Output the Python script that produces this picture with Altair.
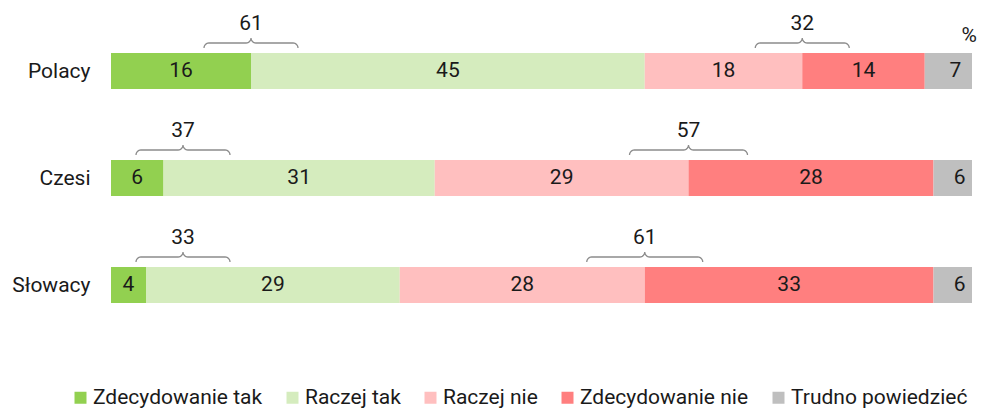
import json
import math
import altair as alt
import pandas as pd

# ---------------- data ----------------
groups = ["Polacy", "Czesi", "Słowacy"]
categories = ["Zdecydowanie tak", "Raczej tak", "Raczej nie", "Zdecydowanie nie", "Trudno powiedzieć"]
zdecydowanie_tak = [16, 6, 4]
raczej_tak = [45, 31, 29]
raczej_nie = [18, 29, 28]
zdecydowanie_nie = [14, 28, 33]
trudno_powiedziec = [7, 6, 6]
colors = ["#92D050", "#D5ECBE", "#FFBFBF", "#FF7F7F", "#BFBFBF"]

# ---------------- layout constants ----------------
PX_PER_UNIT = 8.75
PLOT_W = 861
XMAX = PLOT_W / PX_PER_UNIT
ROW_PX = 107
TOP_PX = 63
PLOT_H = 330
Y_MIN = -TOP_PX / ROW_PX
Y_MAX = Y_MIN + PLOT_H / ROW_PX
BAR_HALF_PX = 18
FONT = "Roboto"
FS = 21
TXT = "#1a1a1a"
BRACE_MIN_CENTER_PX = 72
BRACE_POS_HALF_PX = [47, 47, 47]
BRACE_NEG_HALF_PX = [47, 59, 58]


def ux(px):
    return px / PX_PER_UNIT


def uy(px):
    return px / ROW_PX


series = [zdecydowanie_tak, raczej_tak, raczej_nie, zdecydowanie_nie, trudno_powiedziec]

bar_rows = []
for gi, g in enumerate(groups):
    cum = 0
    for ci, cat in enumerate(categories):
        v = series[ci][gi]
        bar_rows.append({
            "group": g, "cat": cat, "value": v,
            "x0": cum, "x1": cum + v, "xm": cum + v / 2,
            "y0": gi - uy(BAR_HALF_PX), "y1": gi + uy(BAR_HALF_PX), "yc": gi,
        })
        cum += v
bars_df = pd.DataFrame(bar_rows)


def arc(cx, cy, r, a0, a1, n=6):
    pts = []
    for k in range(n + 1):
        t = math.radians(a0 + (a1 - a0) * k / n)
        pts.append((cx + r * math.cos(t), cy + r * math.sin(t)))
    return pts


def brace_points(half, r=5, end=-5):
    flat = end - r
    peak = flat - r
    pts = []
    pts += arc(-half + r, end, r, 180, 270)
    pts += arc(-r, peak, r, 90, 0)
    pts += arc(r, peak, r, 180, 90)[1:]
    pts += arc(half - r, end, r, 270, 360)
    return pts


brace_rows = []
label_rows = []
bid = 0
for gi, g in enumerate(groups):
    top = gi - uy(BAR_HALF_PX)
    pos_center = max(zdecydowanie_tak[gi], ux(BRACE_MIN_CENTER_PX))
    pos_total = zdecydowanie_tak[gi] + raczej_tak[gi]
    neg_center = zdecydowanie_tak[gi] + raczej_tak[gi] + raczej_nie[gi]
    neg_total = raczej_nie[gi] + zdecydowanie_nie[gi]
    for center, total, half in [(pos_center, pos_total, BRACE_POS_HALF_PX[gi]),
                                (neg_center, neg_total, BRACE_NEG_HALF_PX[gi])]:
        for k, (dx, dy) in enumerate(brace_points(half)):
            brace_rows.append({"id": bid, "k": k, "x": center + ux(dx), "y": top + uy(dy)})
        label_rows.append({"x": center, "y": top - uy(29), "text": str(total)})
        bid += 1
brace_df = pd.DataFrame(brace_rows)
sums_df = pd.DataFrame(label_rows)
pct_df = pd.DataFrame([{"x": XMAX, "y": 0 - uy(BAR_HALF_PX) - uy(17), "text": "%"}])

# ---------------- scales / axes ----------------
xscale = alt.Scale(domain=[0, XMAX], nice=False, zero=False)
yscale = alt.Scale(domain=[Y_MIN, Y_MAX], nice=False, zero=False, reverse=True)
label_expr = json.dumps(groups, ensure_ascii=False) + "[datum.value]"
yaxis = alt.Axis(values=[0, 1, 2], labelExpr=label_expr, ticks=False, domain=False, grid=False,
                 labelPadding=21, labelFont=FONT, labelFontSize=FS, labelColor=TXT,
                 labelFlush=False, labelOverlap=False, labelBound=False, title=None,
                 labelAlign="right", labelBaseline="middle")


def X(f):
    return alt.X(f, type="quantitative", scale=xscale, axis=None)


def Y(f):
    return alt.Y(f, type="quantitative", scale=yscale, axis=yaxis)


bars = alt.Chart(bars_df).mark_bar(clip=True, strokeWidth=0).encode(
    x=X("x0"), x2="x1", y=Y("y0"), y2="y1",
    color=alt.Color("cat:N", scale=alt.Scale(domain=categories, range=colors),
                    legend=alt.Legend(title=None, orient="none", direction="horizontal",
                                      legendX=-41, legendY=379, symbolType="square",
                                      symbolSize=144, symbolStrokeWidth=0, labelOffset=2,
                                      columnPadding=19, padding=0, labelFont=FONT,
                                      labelFontSize=FS, labelColor=TXT, labelLimit=400)),
)

bar_text = alt.Chart(bars_df).mark_text(font=FONT, fontSize=FS, color=TXT, baseline="middle",
                                        align="center").encode(
    x=X("xm"), y=Y("yc"), text="value:Q")

braces = alt.Chart(brace_df).mark_line(color="#8c8c8c", strokeWidth=1.3, clip=False).encode(
    x=X("x"), y=Y("y"), detail="id:N", order="k:Q")

sum_text = alt.Chart(sums_df).mark_text(font=FONT, fontSize=FS, color=TXT, baseline="middle",
                                        align="center").encode(
    x=X("x"), y=Y("y"), text="text:N")

pct_text = alt.Chart(pct_df).mark_text(font=FONT, fontSize=FS, color=TXT, baseline="middle",
                                       align="right", dx=5).encode(
    x=X("x"), y=Y("y"), text="text:N")

chart = alt.layer(bars, bar_text, braces, sum_text, pct_text).properties(
    width=PLOT_W, height=PLOT_H,
    padding={"left": 103, "top": 0, "right": 5, "bottom": 71},
    autosize=alt.AutoSizeParams(type="none"),
    background="white",
).configure_view(stroke=None)

chart.save("out.html", embed_options={"renderer": "svg", "actions": False})
